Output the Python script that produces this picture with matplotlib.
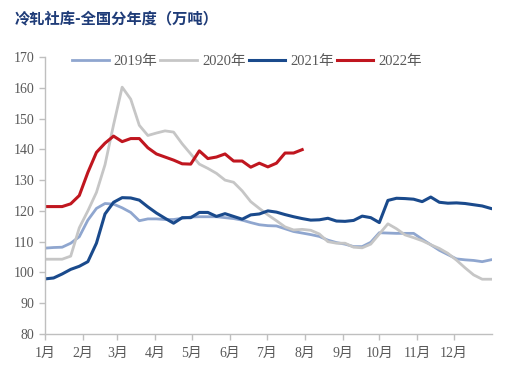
import matplotlib
matplotlib.use("Agg")
import matplotlib.pyplot as plt
import numpy as np

title = "冷轧社库-全国分年度（万吨）"
month_labels = ["1月", "2月", "3月", "4月", "5月", "6月", "7月", "8月", "9月", "10月", "11月", "12月"]
month_start_days = [0, 31, 59, 90, 120, 151, 181, 212, 243, 273, 304, 334]
y_ticks = [80, 90, 100, 110, 120, 130, 140, 150, 160, 170]

series_names = ["2019年", "2020年", "2021年", "2022年"]

v2019 = [107.9, 108.1, 108.2, 109.5, 111.6, 117.0, 120.8, 122.4, 122.2, 121.0,
         119.5, 116.8, 117.4, 117.4, 117.2, 117.2, 117.6, 118.0, 118.1, 118.1,
         118.1, 117.8, 117.5, 117.0, 116.2, 115.5, 115.2, 115.1, 114.2, 113.3,
         112.8, 112.3, 111.7, 110.5, 109.7, 109.2, 108.4, 108.4, 109.8, 112.9,
         112.8, 112.7, 112.7, 112.7, 110.8, 109.0, 107.2, 105.8, 104.4, 104.1,
         103.9, 103.5, 104.1]
v2020 = [104.3, 104.3, 104.3, 105.3, 114.5, 120.0, 126.0, 135.0, 148.0, 160.2,
         156.3, 147.8, 144.5, 145.3, 146.0, 145.6, 141.8, 138.5, 135.2, 133.8,
         132.2, 130.0, 129.3, 126.5, 123.0, 120.8, 118.7, 116.8, 114.8, 113.8,
         114.0, 113.7, 112.5, 110.0, 109.5, 109.5, 108.2, 108.0, 109.2, 112.5,
         115.8, 114.2, 112.2, 111.3, 110.3, 109.0, 107.8, 106.2, 104.0, 101.5,
         99.2, 97.8, 97.8]
v2021 = [97.9, 98.2, 99.5, 101.0, 102.0, 103.5, 109.5, 119.0, 122.8, 124.3,
         124.2, 123.5, 121.3, 119.3, 117.6, 116.0, 117.8, 117.8, 119.5, 119.5,
         118.2, 119.1, 118.2, 117.3, 118.7, 119.0, 120.0, 119.6, 118.8, 118.1,
         117.5, 117.0, 117.1, 117.6, 116.7, 116.6, 116.9, 118.3, 117.8, 116.2,
         123.4, 124.1, 124.0, 123.8, 123.0, 124.5, 122.8, 122.5, 122.6, 122.4,
         122.0, 121.6, 120.8]
v2022 = [121.4, 121.4, 121.4, 122.3, 125.0, 132.5, 139.0, 142.0, 144.3, 142.5,
         143.5, 143.5, 140.5, 138.5, 137.5, 136.5, 135.3, 135.2, 139.5, 137.0,
         137.5, 138.5, 136.2, 136.2, 134.2, 135.5, 134.3, 135.5, 138.8, 138.8,
         139.9]

colors = ["#8fa6cf", "#c6c6c6", "#1a4a8c", "#c0161f"]
widths = [2.0, 2.0, 2.2, 2.2]

plt.rcParams['font.family'] = ['Liberation Serif', 'Noto Sans CJK SC', 'DejaVu Sans']

fig = plt.figure(figsize=(5.10, 3.73), dpi=100)
ax = fig.add_axes([45/510, 1 - 334/373, 447/510, 277/373])

all_series = [v2019, v2020, v2021, v2022]
for name, vals, c, w in zip(series_names, all_series, colors, widths):
    days = np.arange(len(vals)) * 7
    ax.plot(days, vals, color=c, lw=w, label=name, solid_joinstyle='round')

ax.set_xlim(0, 365)
ax.set_ylim(80, 170)
ax.set_yticks(y_ticks)
ax.set_xticks(month_start_days)
ax.set_xticklabels(month_labels)

for s in ["top", "right"]:
    ax.spines[s].set_visible(False)
for s in ["left", "bottom"]:
    ax.spines[s].set_color("#bfbfbf")
    ax.spines[s].set_linewidth(1.0)
ax.tick_params(axis='both', colors="#bfbfbf", length=4, width=1.0, labelsize=10,
               labelcolor="#595959", direction='out')
ax.tick_params(axis='x', pad=5)

leg = ax.legend(ncol=4, loc='upper center', bbox_to_anchor=(0.452, 1.03), frameon=False,
                fontsize=10.5, handlelength=2.5, handletextpad=0.35, columnspacing=0.2,
                borderaxespad=0)
for t in leg.get_texts():
    t.set_color("#595959")

fig.text(15/510, 1 - 18/373, title, fontsize=11, fontweight='bold', color="#1f3c78",
         family=['Noto Sans CJK SC', 'DejaVu Sans'], va='center', ha='left')

fig.savefig("out.png", dpi=100)
